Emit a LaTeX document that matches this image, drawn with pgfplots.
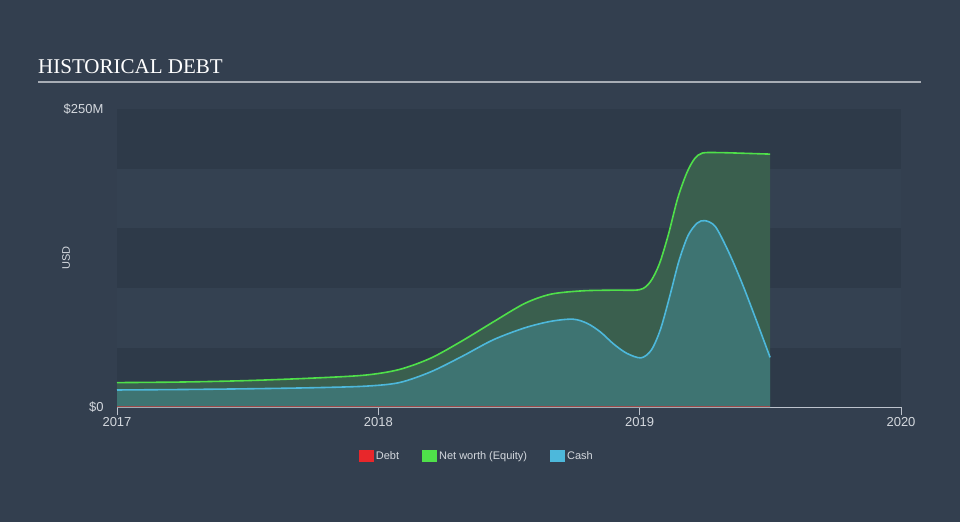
\documentclass[border=0pt]{standalone}
\usepackage{fontspec}
\setmainfont{Liberation Sans}
\newfontfamily\titlefont{Liberation Serif}
\usepackage{pgfplots}
\pgfplotsset{compat=1.18}

\definecolor{bg}{HTML}{333F4F}
\definecolor{banddark}{HTML}{2E3A49}
\definecolor{bandlight}{HTML}{344151}
\definecolor{rulecol}{HTML}{A8ADB5}
\definecolor{axiscol}{HTML}{BCC2CC}
\definecolor{labelcol}{HTML}{D4D8DE}
\definecolor{debtred}{HTML}{E8272B}
\definecolor{nwgreen}{HTML}{4FE04A}
\definecolor{nwfill}{HTML}{3A5F4E}
\definecolor{cashblue}{HTML}{4DB8DB}
\definecolor{cashfill}{HTML}{3E7472}

\pgfplotstableread{
x y
2017.000 20.5
2017.250 21.0
2017.500 22.2
2017.750 24.3
2017.950 26.8
2018.080 31.5
2018.200 41.0
2018.320 55.5
2018.440 71.5
2018.560 87.0
2018.660 94.8
2018.780 97.6
2018.900 98.2
2019.000 98.6
2019.040 105.0
2019.075 120.0
2019.110 145.0
2019.145 175.0
2019.180 196.6
2019.210 208.6
2019.240 213.4
2019.300 213.8
2019.400 213.2
2019.499 212.5
}\networth

\pgfplotstableread{
x y
2017.000 14.3
2017.250 14.7
2017.500 15.3
2017.750 16.2
2017.950 17.5
2018.080 20.5
2018.200 29.5
2018.320 42.5
2018.440 56.5
2018.560 66.5
2018.660 72.0
2018.745 73.8
2018.800 70.2
2018.850 63.0
2018.900 53.0
2018.950 45.2
2019.005 41.3
2019.045 48.0
2019.080 65.5
2019.115 93.0
2019.150 122.5
2019.185 144.0
2019.220 154.5
2019.250 156.6
2019.290 151.5
2019.340 130.5
2019.390 105.0
2019.440 76.5
2019.499 41.7
}\cash

\pgfplotstableread{
x y
2017.0 0.3
2018.0 0.3
2019.0 0.3
2019.5 0.3
}\debt

\begin{document}
\begin{tikzpicture}
\fill[bg] (0pt,0pt) rectangle (960pt,522pt);
\node[anchor=base west, text=white, inner sep=0pt,
      font=\titlefont\fontsize{21}{25}\selectfont] at (38pt,448pt) {HISTORICAL DEBT};
\draw[rulecol, line width=1.5pt] (38pt,440pt) -- (921pt,440pt);

\begin{axis}[
    at={(117pt,115pt)}, anchor=south west,
    width=784pt, height=297.5pt, scale only axis,
    xmin=2017, xmax=2020, ymin=0, ymax=250,
    axis x line*=bottom, axis y line*=left,
    x axis line style={color=axiscol, line width=1pt},
    y axis line style={draw=none},
    xtick={2017,2018,2019,2020},
    xticklabels={2017,2018,2019,2020},
    ytick={0,250},
    yticklabels={\$0,\$250M},
    x tick style={color=axiscol, line width=1pt},
    y tick style={draw=none},
    tick align=outside,
    major tick length=8pt,
    /pgf/number format/assume math mode=true,
    tick label style={font=\fontsize{13}{15}\selectfont, text=labelcol},
    xticklabel style={yshift=1pt},
    yticklabel style={xshift=-2pt},
    ylabel={USD},
    ylabel style={at={(axis description cs:-0.065,0.5)}, anchor=center,
                  font=\fontsize{11}{13}\selectfont, text=labelcol},
    clip=false,
    legend image code/.code={\fill[#1, draw=none] (-3pt,-6pt) rectangle (12pt,6pt);},
    legend style={at={(0.459,-0.165)}, anchor=center, draw=none, fill=none,
                  text=labelcol, font=\fontsize{11}{13}\selectfont,
                  legend columns=-1,
                  /tikz/every even column/.append style={column sep=21pt}},
]
% background bands
\fill[banddark] (axis cs:2017,0) rectangle (axis cs:2020,50);
\fill[bandlight] (axis cs:2017,50) rectangle (axis cs:2020,100);
\fill[banddark] (axis cs:2017,100) rectangle (axis cs:2020,150);
\fill[bandlight] (axis cs:2017,150) rectangle (axis cs:2020,200);
\fill[banddark] (axis cs:2017,200) rectangle (axis cs:2020,250);

% areas
\addplot[draw=none, fill=nwfill, smooth, tension=0.5, forget plot] table {\networth} \closedcycle;
\addplot[draw=none, fill=cashfill, smooth, tension=0.5, forget plot] table {\cash} \closedcycle;

% lines
\addplot[debtred!55!cashfill, line width=0.8pt, forget plot] table {\debt};
\addplot[nwgreen, line width=1.6pt, smooth, tension=0.5, forget plot] table {\networth};
\addplot[cashblue, line width=1.6pt, smooth, tension=0.5, forget plot] table {\cash};

\addlegendimage{fill=debtred}
\addlegendentry{Debt}
\addlegendimage{fill=nwgreen}
\addlegendentry{Net worth (Equity)}
\addlegendimage{fill=cashblue}
\addlegendentry{Cash}
\end{axis}
\end{tikzpicture}
\end{document}
